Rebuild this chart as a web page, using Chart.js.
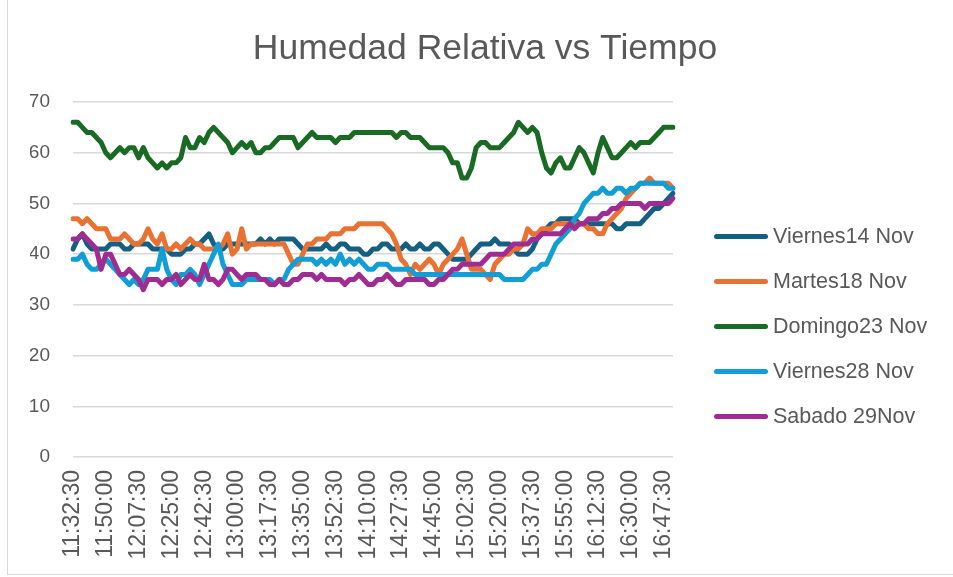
<!DOCTYPE html>
<html>
<head>
<meta charset="utf-8">
<title>Humedad Relativa vs Tiempo</title>
<script src="https://cdn.jsdelivr.net/npm/chart.js@4.4.1/dist/chart.umd.min.js"></script>
<style>
    html, body { margin: 0; padding: 0; background: #fff; }
    #div_chart_humedad { position: relative; width: 953px; height: 577px; overflow: hidden; }
    #chart_frame { position: absolute; left: 7px; top: -5px; width: 960px; height: 578px; border: 1px solid #d9d9d9; pointer-events: none; }
    #chart_legend { position: absolute; left: 714px; top: 214px; font-family: 'Liberation Sans', Arial, sans-serif; font-size: 21.5px; color: #595959; }
    .legend_row { display: flex; align-items: center; height: 45px; white-space: nowrap; }
    .legend_line { display: inline-block; width: 54px; height: 5px; border-radius: 3px; margin-right: 5px; }
</style>
</head>
<body>
<div id="div_chart_humedad">
    <canvas id="chart_humedad" width="953" height="577"></canvas>
    <div id="chart_legend"></div>
    <div id="chart_frame"></div>
</div>
<script>
// horas de medicion (cada 2:30 min)
var horas = [
    '11:32:30','11:35:00','11:37:30','11:40:00','11:42:30','11:45:00','11:47:30','11:50:00','11:52:30','11:55:00','11:57:30',
    '12:00:00','12:02:30','12:05:00','12:07:30','12:10:00','12:12:30','12:15:00','12:17:30','12:20:00','12:22:30','12:25:00','12:27:30',
    '12:30:00','12:32:30','12:35:00','12:37:30','12:40:00','12:42:30','12:45:00','12:47:30','12:50:00','12:52:30','12:55:00','12:57:30',
    '13:00:00','13:02:30','13:05:00','13:07:30','13:10:00','13:12:30','13:15:00','13:17:30','13:20:00','13:22:30','13:25:00','13:27:30',
    '13:30:00','13:32:30','13:35:00','13:37:30','13:40:00','13:42:30','13:45:00','13:47:30','13:50:00','13:52:30','13:55:00','13:57:30',
    '14:00:00','14:02:30','14:05:00','14:07:30','14:10:00','14:12:30','14:15:00','14:17:30','14:20:00','14:22:30','14:25:00','14:27:30',
    '14:30:00','14:32:30','14:35:00','14:37:30','14:40:00','14:42:30','14:45:00','14:47:30','14:50:00','14:52:30','14:55:00','14:57:30',
    '15:00:00','15:02:30','15:05:00','15:07:30','15:10:00','15:12:30','15:15:00','15:17:30','15:20:00','15:22:30','15:25:00','15:27:30',
    '15:30:00','15:32:30','15:35:00','15:37:30','15:40:00','15:42:30','15:45:00','15:47:30','15:50:00','15:52:30','15:55:00','15:57:30',
    '16:00:00','16:02:30','16:05:00','16:07:30','16:10:00','16:12:30','16:15:00','16:17:30','16:20:00','16:22:30','16:25:00','16:27:30',
    '16:30:00','16:32:30','16:35:00','16:37:30','16:40:00','16:42:30','16:45:00','16:47:30','16:50:00','16:52:30'
];

var viernes14 = [
    41,43,44,42,41,41,41,41,42,42,42,41,41,42,42,42,42,41,41,41,41,40,40,40,41,41,42,42,43,44,42,41,41,42,42,42,42,42,42,42,43,42,43,42,43,
    43,43,43,42,41,41,41,41,41,42,41,41,42,42,41,41,41,40,40,41,
    41,42,42,41,41,41,42,41,41,42,41,41,42,42,41,40,39,39,39,39,40,
    41,42,42,42,43,42,42,42,41,40,40,40,41,43,44,45,46,46,47,47,47,47,46,46,46,46,46,46,46,46,45,45,46,46,46,46,47,48,49,49,50,51,52
];
var martes18 = [
    47,47,46,47,46,45,45,45,43,43,43,44,43,42,42,43,45,43,42,44,41,41,42,41,42,43,42,42,41,41,41,41,42,44,40,41,45,41,42,42,42,42,42,42,42,
    42,40,38,38,40,42,42,43,43,43,44,44,44,45,45,45,46,46,46,46,
    46,46,45,44,42,39,38,36,38,37,38,39,38,36,38,39,40,41,43,40,37,
    37,37,36,35,38,39,40,40,41,41,42,45,44,44,45,45,45,46,46,46,46,
    46,46,46,45,45,44,44,46,47,48,49,51,52,53,54,54,55,54,54,54,54,53
];
var domingo23 = [
    66,66,65,64,64,63,62,60,59,60,61,60,61,61,59,61,59,58,57,58,57,
    58,58,59,63,61,61,63,62,64,65,64,63,62,60,61,62,61,62,60,60,61,
    61,62,63,63,63,63,61,62,63,64,63,63,63,63,62,63,63,63,64,64,64,
    64,64,64,64,64,64,63,64,64,63,63,63,62,61,61,61,61,60,58,58,55,55,57,
    61,62,62,61,61,61,62,63,64,66,65,64,65,64,60,57,56,58,59,57,
    57,59,61,60,58,56,60,63,61,59,59,60,61,62,61,62,62,62,63,64,65,65,65
];
var viernes28 = [
    39,39,40,38,37,37,38,39,38,37,36,35,34,35,34,35,37,37,37,41,37,35,34,36,36,37,36,34,36,38,40,42,38,36,34,34,34,35,35,35,35,35,35,34,35,
    35,37,38,39,39,39,39,38,39,38,39,38,40,38,39,38,39,38,37,37,
    38,38,38,37,37,37,37,37,36,36,36,36,36,36,36,36,36,36,36,36,36,
    36,36,36,36,36,36,35,35,35,35,35,36,37,37,38,38,40,42,43,44,45,
    47,48,50,51,52,52,53,52,52,53,53,52,53,53,54,54,54,54,54,54,53,53
];
var sabado29 = [
    43,43,44,43,42,41,37,40,40,38,36,36,37,36,35,33,35,35,35,34,35,35,36,34,35,36,35,35,38,35,35,34,35,37,37,36,35,36,36,36,35,35,34,34,35,
    34,34,35,35,36,36,36,35,36,35,35,35,35,34,35,35,36,35,34,34,35,35,36,35,34,34,35,35,35,35,35,34,34,35,35,36,37,37,38,38,38,38,
    38,39,40,40,40,40,41,42,42,42,42,43,43,44,44,44,44,44,45,46,
    45,46,46,47,47,47,48,48,49,49,50,50,50,50,50,49,50,50,50,50,50,51
];

var series_names = ['Viernes14 Nov', 'Martes18 Nov', 'Domingo23 Nov', 'Viernes28 Nov', 'Sabado 29Nov'];
var series_colors = ['#156082', '#E97132', '#196B24', '#0F9ED5', '#A02B93'];
var y_ticks = [0, 10, 20, 30, 40, 50, 60, 70];

var FONT = "'Liberation Sans', Arial, sans-serif";
var TXT = '#595959';

function makeDataset(idx, values) {
    return {
        label: series_names[idx],
        data: values,
        borderColor: series_colors[idx],
        backgroundColor: series_colors[idx],
        borderWidth: 5,
        borderCapStyle: 'round',
        borderJoinStyle: 'round',
        pointRadius: 0,
        tension: 0,
        // ultima serie encima (como Excel)
        order: 5 - idx
    };
}

// leyenda en html (la de chart.js no cabe a la derecha)
var legend_div = document.getElementById('chart_legend');
series_names.forEach(function (name, i) {
    var row = document.createElement('div');
    row.className = 'legend_row';
    row.innerHTML = '<span class="legend_line" style="background:' + series_colors[i] + '"></span>' + name;
    legend_div.appendChild(row);
});

new Chart(document.getElementById('chart_humedad'), {
    type: 'line',
    data: {
        labels: horas,
        datasets: [
            makeDataset(0, viernes14),
            makeDataset(1, martes18),
            makeDataset(2, domingo23),
            makeDataset(3, viernes28),
            makeDataset(4, sabado29)
        ]
    },
    options: {
        responsive: false,
        animation: false,
        events: [],
        layout: {
            padding: { left: 30, right: 13, top: 0, bottom: 0 }
        },
        plugins: {
            title: {
                display: true,
                text: 'Humedad Relativa vs Tiempo',
                color: TXT,
                font: { family: FONT, size: 35.5, weight: 'normal' },
                padding: { top: 28, bottom: 31.4 }
            },
            legend: { display: false },
            tooltip: { enabled: false }
        },
        scales: {
            x: {
                grid: { display: false, drawTicks: false },
                border: { display: false },
                ticks: {
                    autoSkip: false,
                    minRotation: 90,
                    maxRotation: 90,
                    padding: 13,
                    color: TXT,
                    font: { family: FONT, size: 23 },
                    callback: function (val, index) {
                        return index % 7 === 0 ? this.getLabelForValue(val) : '';
                    }
                },
                afterFit: function (scale) {
                    scale.height = 120;
                }
            },
            y: {
                min: y_ticks[0],
                max: y_ticks[y_ticks.length - 1],
                grid: { color: '#d9d9d9', lineWidth: 1.5, drawTicks: false },
                border: { display: false },
                ticks: {
                    stepSize: 10,
                    padding: 23,
                    color: TXT,
                    font: { family: FONT, size: 19 }
                },
                afterFit: function (scale) {
                    scale.width = 43;
                }
            },
            // eje vacio: reserva el sitio de la leyenda
            y_leyenda: {
                position: 'right',
                display: true,
                grid: { display: false, drawTicks: false },
                border: { display: false },
                ticks: { display: false },
                afterFit: function (scale) {
                    scale.width = 267;
                }
            }
        }
    }
});
</script>
</body>
</html>
